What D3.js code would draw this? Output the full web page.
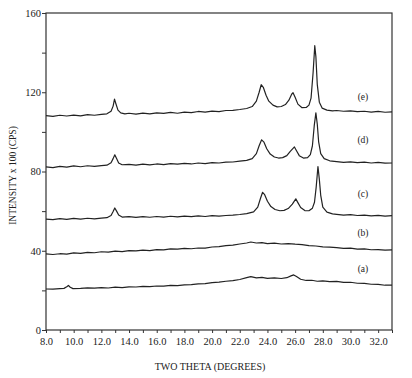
<!DOCTYPE html>
<html>
<head>
<meta charset="utf-8">
<script src="https://cdn.jsdelivr.net/npm/d3@7"></script>
<style>
  body { margin: 0; background: #fff; }
  svg text { font-family: "Liberation Serif", "DejaVu Serif", serif; fill: #222; }
</style>
</head>
<body>
<div id="chart"></div>
<script>
// x-ray diffraction traces, [two theta, intensity x 100]
const curveE = [[8.0,108.2],[8.5,107.8],[9.0,108.4],[9.5,108.0],[10.0,108.5],[10.5,108.1],[11.0,108.7],[11.5,108.4],[12.0,108.8],[12.4,109.1],[12.7,110.4],[12.85,113.0],[12.95,116.5],[13.05,114.2],[13.2,111.0],[13.4,109.6],[13.7,109.1],[14.0,109.4],[14.5,109.0],[15.0,109.5],[15.5,109.1],[16.0,109.6],[16.5,109.3],[17.0,109.8],[17.5,109.4],[18.0,110.0],[18.5,109.7],[19.0,110.3],[19.5,110.0],[20.0,110.5],[20.5,110.2],[21.0,110.8],[21.5,110.9],[22.0,111.3],[22.5,111.8],[22.9,112.8],[23.2,115.5],[23.4,120.0],[23.55,123.8],[23.7,122.5],[23.9,118.5],[24.1,115.5],[24.4,113.5],[24.7,112.6],[25.0,112.8],[25.3,113.8],[25.55,116.0],[25.75,119.0],[25.85,119.8],[26.0,117.5],[26.2,114.0],[26.5,112.2],[26.8,112.3],[27.0,113.5],[27.15,117.0],[27.3,130.0],[27.42,143.5],[27.5,138.0],[27.6,124.0],[27.75,115.0],[27.95,112.0],[28.3,111.0],[28.7,110.6],[29.0,110.8],[29.5,110.4],[30.0,110.6],[30.5,110.2],[31.0,110.4],[31.5,110.0],[32.0,110.3],[32.5,109.9],[33.0,110.1]];

const curveD = [[8.0,82.3],[8.5,82.0],[9.0,82.6],[9.5,82.2],[10.0,82.8],[10.5,82.4],[11.0,82.9],[11.5,82.6],[12.0,83.0],[12.4,83.2],[12.7,84.4],[12.85,86.5],[12.97,88.4],[13.1,86.6],[13.25,84.3],[13.5,83.4],[14.0,83.6],[14.5,83.2],[15.0,83.7],[15.5,83.3],[16.0,83.8],[16.5,83.5],[17.0,84.0],[17.5,83.7],[18.0,84.1],[18.5,83.8],[19.0,84.3],[19.5,84.0],[20.0,84.5],[20.5,84.3],[21.0,84.7],[21.5,84.8],[22.0,85.2],[22.5,85.6],[22.9,86.5],[23.2,89.0],[23.4,93.0],[23.58,96.0],[23.75,94.8],[23.95,91.5],[24.2,88.8],[24.5,87.3],[24.8,86.8],[25.1,87.0],[25.4,88.0],[25.65,90.2],[25.95,92.4],[26.1,90.5],[26.3,88.0],[26.6,86.8],[26.9,87.0],[27.1,88.5],[27.25,93.0],[27.38,103.0],[27.5,109.6],[27.6,104.0],[27.7,95.0],[27.85,89.0],[28.1,86.5],[28.5,85.4],[29.0,85.0],[29.5,84.6],[30.0,84.9],[30.5,84.5],[31.0,84.7],[31.5,84.3],[32.0,84.6],[32.5,84.2],[33.0,84.3]];

const curveC = [[8.0,56.0],[8.5,55.7],[9.0,56.2],[9.5,55.8],[10.0,56.3],[10.5,56.0],[11.0,56.4],[11.5,56.1],[12.0,56.5],[12.4,56.7],[12.7,57.8],[12.85,59.8],[12.97,61.6],[13.1,60.0],[13.25,58.0],[13.5,57.0],[14.0,57.2],[14.5,56.8],[15.0,57.2],[15.5,56.9],[16.0,57.3],[16.5,57.0],[17.0,57.4],[17.5,57.1],[18.0,57.5],[18.5,57.2],[19.0,57.6],[19.5,57.3],[20.0,57.7],[20.5,57.5],[21.0,57.8],[21.5,58.0],[22.0,58.3],[22.5,58.7],[23.0,59.6],[23.3,62.0],[23.5,66.5],[23.65,69.5],[23.8,68.3],[24.0,65.0],[24.25,62.3],[24.55,60.8],[24.9,60.2],[25.2,60.4],[25.5,61.3],[25.8,63.5],[26.05,66.2],[26.2,64.3],[26.4,61.8],[26.7,60.3],[27.0,60.2],[27.25,61.5],[27.4,64.5],[27.52,72.0],[27.65,82.5],[27.75,76.0],[27.85,68.0],[28.0,62.0],[28.3,59.5],[28.7,58.6],[29.0,58.4],[29.5,58.0],[30.0,58.2],[30.5,57.8],[31.0,58.0],[31.5,57.6],[32.0,57.9],[32.5,57.5],[33.0,57.7]];

const curveB = [[8.0,38.4],[8.5,38.1],[9.0,38.5],[9.5,38.3],[10.0,38.9],[10.5,38.7],[11.0,39.2],[11.5,39.0],[12.0,39.5],[12.5,39.3],[13.0,39.8],[13.5,39.6],[14.0,40.1],[14.5,39.9],[15.0,40.3],[15.5,40.1],[16.0,40.6],[16.5,40.4],[17.0,40.9],[17.5,40.8],[18.0,41.2],[18.5,41.0],[19.0,41.4],[19.5,41.3],[20.0,41.9],[20.5,42.1],[21.0,42.6],[21.5,42.8],[22.0,43.4],[22.5,43.9],[22.8,44.4],[23.2,43.9],[23.6,44.1],[24.0,43.6],[24.5,43.8],[25.0,43.4],[25.5,43.6],[26.0,43.3],[26.5,43.1],[27.0,42.6],[27.5,42.4],[28.0,42.0],[28.5,41.8],[29.0,41.6],[29.5,41.2],[30.0,41.3],[30.5,40.8],[31.0,40.9],[31.5,40.5],[32.0,40.6],[32.5,40.3],[33.0,40.4]];

const curveA = [[8.0,20.7],[8.5,20.6],[9.0,20.9],[9.3,21.0],[9.5,21.8],[9.62,22.5],[9.75,21.6],[9.95,20.9],[10.5,21.0],[11.0,21.3],[11.5,21.1],[12.0,21.4],[12.5,21.2],[13.0,21.6],[13.5,21.4],[14.0,21.8],[14.5,21.7],[15.0,22.0],[15.5,21.9],[16.0,22.2],[16.5,22.1],[17.0,22.5],[17.5,22.4],[18.0,22.8],[18.5,22.9],[19.0,23.3],[19.5,23.4],[20.0,23.9],[20.5,24.2],[21.0,24.6],[21.5,24.9],[22.0,25.5],[22.5,26.4],[22.8,26.9],[23.2,26.3],[23.6,26.6],[24.0,26.1],[24.5,26.3],[25.0,26.0],[25.4,26.4],[25.7,27.3],[25.9,27.8],[26.1,27.0],[26.4,25.6],[26.8,25.0],[27.2,25.1],[27.6,24.6],[28.0,24.8],[28.5,24.4],[29.0,24.5],[29.5,24.0],[30.0,24.1],[30.5,23.6],[31.0,23.5],[31.5,23.1],[32.0,23.0],[32.5,22.6],[33.0,22.7]];

const curveNames = ['(e)', '(d)', '(c)', '(b)', '(a)'];
const curveLabelY = [118, 96, 69, 49, 31];
const yTickLabels = [0, 40, 80, 120, 160];

const serif = '"Liberation Serif", "DejaVu Serif", serif';
const width = 412, height = 378;
const margin = {top: 13, right: 20, bottom: 48, left: 46};

const svg = d3.select('#chart').append('svg')
  .attr('width', width)
  .attr('height', height)
  .attr('font-family', serif);

const x = d3.scaleLinear().domain([8, 33]).range([margin.left, width - margin.right]);
const y = d3.scaleLinear().domain([0, 160]).range([height - margin.bottom, margin.top]);

// frame
svg.append('rect')
  .attr('x', x(8)).attr('y', y(160))
  .attr('width', x(33) - x(8)).attr('height', y(0) - y(160))
  .attr('fill', 'none').attr('stroke', '#333').attr('stroke-width', 1.2);

// x axis: ticks each degree, labels each 2
const xAxis = d3.axisBottom(x)
  .tickValues(d3.range(8, 33.01, 1))
  .tickSize(3)
  .tickFormat(d => (d % 2 === 0 ? d.toFixed(1) : ''));
svg.append('g')
  .attr('transform', `translate(0,${y(0)})`)
  .call(xAxis)
  .attr('font-family', serif)
  .call(g => g.select('.domain').remove())
  .call(g => g.selectAll('line').attr('stroke', '#333'))
  .call(g => g.selectAll('text').attr('font-size', 10.5).attr('dy', '0.85em'));

// y axis: ticks each 20, labels each 40
const yAxis = d3.axisLeft(y)
  .tickValues(d3.range(0, 161, 20))
  .tickSize(4)
  .tickFormat(d => (yTickLabels.includes(d) ? d : ''));
svg.append('g')
  .attr('transform', `translate(${x(8)},0)`)
  .call(yAxis)
  .attr('font-family', serif)
  .call(g => g.select('.domain').remove())
  .call(g => g.selectAll('line').attr('stroke', '#333'))
  .call(g => g.selectAll('text').attr('font-size', 10.5).attr('x', -5));

// traces
const line = d3.line().x(d => x(d[0])).y(d => y(d[1]));
[curveE, curveD, curveC, curveB, curveA].forEach(c => {
  svg.append('path')
    .datum(c)
    .attr('d', line)
    .attr('fill', 'none')
    .attr('stroke', '#222')
    .attr('stroke-width', 1.2)
    .attr('stroke-linejoin', 'round');
});

// curve labels
svg.selectAll('.curve-label')
  .data(curveNames)
  .enter().append('text')
  .attr('class', 'curve-label')
  .attr('x', x(30.9))
  .attr('y', (d, i) => y(curveLabelY[i]))
  .attr('dy', '0.35em')
  .attr('text-anchor', 'middle')
  .attr('font-size', 9.5)
  .text(d => d);

// axis titles
svg.append('text')
  .attr('x', 210).attr('y', 370)
  .attr('text-anchor', 'middle')
  .attr('font-size', 10)
  .text('TWO THETA (DEGREES)');

svg.append('text')
  .attr('transform', `translate(16,${(y(0) + y(160)) / 2 + 4}) rotate(-90)`)
  .attr('text-anchor', 'middle')
  .attr('font-size', 9.5)
  .text('INTENSITY x 100 (CPS)');
</script>
</body>
</html>
